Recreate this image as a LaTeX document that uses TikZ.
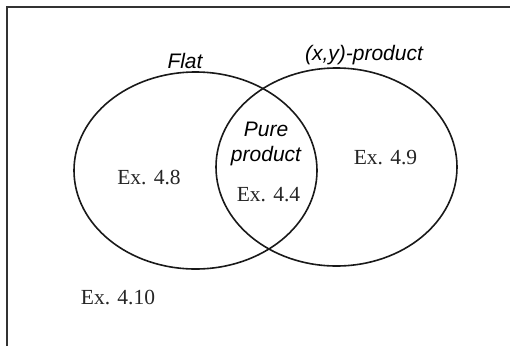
\documentclass[tikz,border=0pt]{standalone}
\usepackage{fontspec}
\setmainfont{Liberation Serif}
\newfontfamily\labelsans{Liberation Sans}
\tikzset{
  setline/.style={line width=1.6pt, draw=black!90},
  framel/.style={line width=1.8pt, draw=black!80},
  setname/.style={font=\labelsans\itshape\fontsize{21}{25}\selectfont, inner sep=0pt, align=center},
  exlabel/.style={font=\fontsize{21.5}{25}\selectfont, inner sep=0pt, text=black!85}
}
\begin{document}
\begin{tikzpicture}[x=1pt,y=-1pt]
\useasboundingbox (0,0) rectangle (510,346);
\fill[white] (0,0) rectangle (510,346);
% frame (only left and top edges visible)
\coordinate (fbl) at (7,346);
\coordinate (ftl) at (7,7);
\coordinate (ftr) at (510,7);
\draw[framel] (fbl) -- (ftl) -- (ftr);
% sets
\draw[setline] (195.5,170.5) ellipse [x radius=121.5, y radius=98.5];
\draw[setline] (336.5,167) ellipse [x radius=120.5, y radius=99];
% labels
\node[setname] (flat) at (185,61) {Flat};
\node[setname] (xy) at (364,55) {(x,y)-product};
\node[setname] (pure) at (266,144) {Pure\\product};
\node[exlabel] (e48) at (149,177) {Ex. 4.8};
\node[exlabel] (e49) at (385.5,157.5) {Ex. 4.9};
\node[exlabel] (e44) at (268.5,195) {Ex. 4.4};
\node[exlabel] (e410) at (118,297.5) {Ex. 4.10};
\end{tikzpicture}
\end{document}
